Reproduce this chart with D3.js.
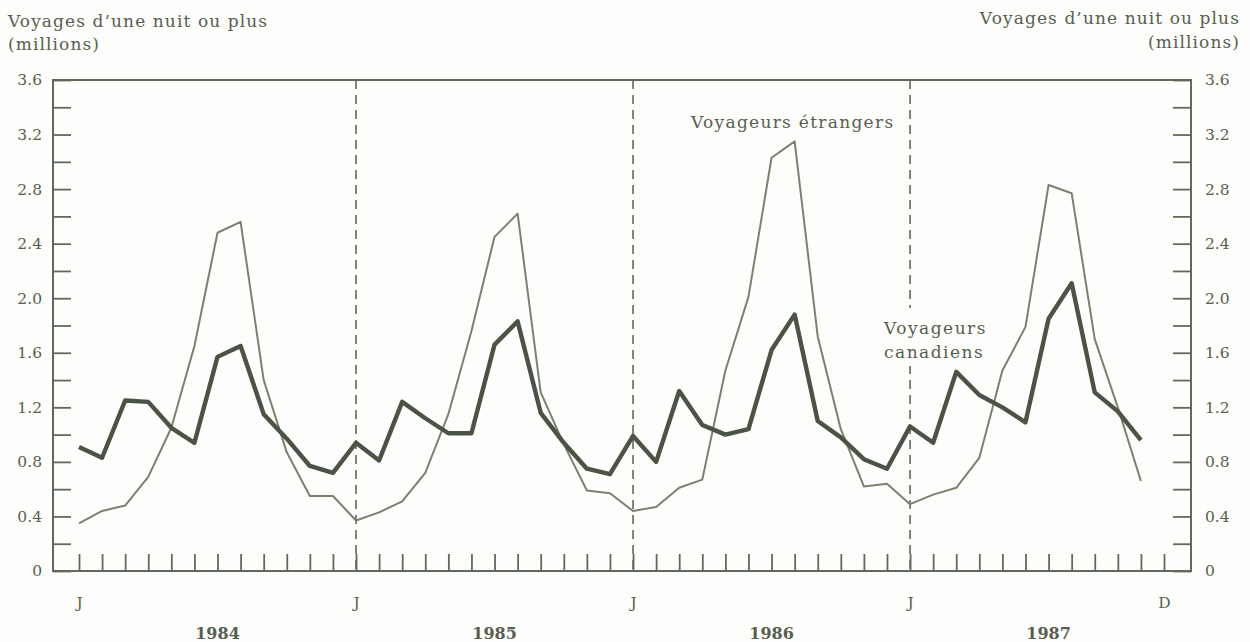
<!DOCTYPE html>
<html><head><meta charset="utf-8">
<script src="https://cdn.jsdelivr.net/npm/d3@7"></script>
<style>
html,body{margin:0;padding:0;background:#fdfdfb;}
text{font-family:"DejaVu Serif",serif;fill:#566050;}
</style></head>
<body><svg id="c" width="1250" height="642"></svg>
<script>
// ---- data (monthly, Jan 1984 .. Nov 1987) ----
const years = ["1984","1985","1986","1987"];
const monthLetters = ["J","F","M","A","M","J","J","A","S","O","N","D"];
const etrangers = [
  0.35,0.44,0.48,0.69,1.05,1.65,2.48,2.56,1.40,0.87,0.55,0.55,
  0.37,0.43,0.51,0.72,1.15,1.76,2.45,2.62,1.31,0.93,0.59,0.57,
  0.44,0.47,0.61,0.67,1.47,2.01,3.03,3.15,1.72,1.04,0.62,0.64,
  0.49,0.56,0.61,0.83,1.47,1.79,2.83,2.77,1.70,1.20,0.66
];
const canadiens = [
  0.91,0.83,1.25,1.24,1.05,0.94,1.57,1.65,1.15,0.97,0.77,0.72,
  0.94,0.81,1.24,1.12,1.01,1.01,1.66,1.83,1.16,0.94,0.75,0.71,
  0.99,0.80,1.32,1.07,1.00,1.04,1.62,1.88,1.10,0.98,0.82,0.75,
  1.06,0.94,1.46,1.29,1.20,1.09,1.85,2.11,1.31,1.17,0.96
];
const yTicks = [0,0.2,0.4,0.6,0.8,1.0,1.2,1.4,1.6,1.8,2.0,2.2,2.4,2.6,2.8,3.0,3.2,3.4,3.6];
const yLabelled = [0,0.4,0.8,1.2,1.6,2.0,2.4,2.8,3.2,3.6];
const axisTitle = ["Voyages d\u2019une nuit ou plus","(millions)"];
const labelEtr = "Voyageurs étrangers";
const labelCan = ["Voyageurs","canadiens"];

// ---- layout ----
const svg = d3.select("#c");
const nMonths = 48;
const frameL = 53, frameR = 1191, frameT = 80, frameB = 571;
const x = d3.scaleLinear().domain([0, nMonths-1]).range([79, 1164]);
const y = d3.scaleLinear().domain([0, 3.6]).range([frameB, frameT]);
const ink = "#5f6a58";

const fmt = v => v === 0 ? "0" : d3.format(".1f")(v);
const lblFmt = v => yLabelled.some(t => Math.abs(t - v) < 1e-9) ? fmt(v) : "";

// left axis
const gL = svg.append("g").attr("transform", `translate(${frameL},0)`)
  .call(d3.axisLeft(y).tickValues(yTicks).tickSize(-18).tickPadding(11).tickFormat(lblFmt));
// right axis
const gR = svg.append("g").attr("transform", `translate(${frameR},0)`)
  .call(d3.axisRight(y).tickValues(yTicks).tickSize(-18).tickPadding(14).tickFormat(lblFmt));
// bottom axis (months)
const monthIdx = d3.range(nMonths);
const gB = svg.append("g").attr("transform", `translate(0,${frameB})`)
  .call(d3.axisBottom(x).tickValues(monthIdx).tickSize(-17).tickPadding(26)
    .tickFormat(i => (i % 12 === 0) ? "J" : (i === nMonths-1 ? "D" : "")));

[gL, gR, gB].forEach(g => {
  g.select(".domain").remove();
  g.selectAll(".tick line").attr("stroke", ink).attr("stroke-width", 1.8);
  g.selectAll(".tick text").attr("font-size", 15.5).style("fill", "#566050");
});

// frame
svg.append("rect").attr("x", frameL).attr("y", frameT)
  .attr("width", frameR - frameL).attr("height", frameB - frameT)
  .attr("fill", "none").attr("stroke", ink).attr("stroke-width", 2);

// dashed year separators
svg.append("g").selectAll("line").data([12, 24, 36]).join("line")
  .attr("x1", d => x(d)).attr("x2", d => x(d))
  .attr("y1", frameT).attr("y2", frameB)
  .attr("stroke", ink).attr("stroke-width", 1.6).attr("stroke-dasharray", "9,6");

// year labels
svg.append("g").selectAll("text").data(years).join("text")
  .attr("x", (d, i) => x(i * 12 + 6)).attr("y", 639)
  .attr("text-anchor", "middle").attr("font-size", 16).attr("font-weight", "bold")
  .text(d => d);

// lines
const line = d3.line().x((d, i) => x(i)).y(d => y(d));
svg.append("path").datum(etrangers).attr("d", line)
  .attr("fill", "none").attr("stroke", "#79826f").attr("stroke-width", 2)
  .attr("stroke-linejoin", "round");
svg.append("path").datum(canadiens).attr("d", line)
  .attr("fill", "none").attr("stroke", "#4a5344").attr("stroke-width", 4.4)
  .attr("stroke-linejoin", "round");

// series labels
svg.append("text").attr("x", 691).attr("y", 128).attr("font-size", 17)
  .attr("letter-spacing", 1.3).text(labelEtr);
const canG = svg.append("g");
canG.append("rect").attr("x", 880).attr("y", 308).attr("width", 108).attr("height", 58)
  .attr("fill", "#fdfdfb");
canG.selectAll("text").data(labelCan).join("text")
  .attr("x", 884).attr("y", (d, i) => 334 + i * 24).attr("font-size", 17)
  .attr("letter-spacing", 1.5).text(d => d);

// axis titles
const tl = svg.append("g");
tl.append("text").attr("x", 8).attr("y", 27).attr("font-size", 17).attr("letter-spacing", 1.1).text(axisTitle[0]);
tl.append("text").attr("x", 8).attr("y", 50).attr("font-size", 17).attr("letter-spacing", 1.1).text(axisTitle[1]);
const tr = svg.append("g");
tr.append("text").attr("x", 1240).attr("y", 24).attr("font-size", 17).attr("letter-spacing", 1.1).attr("text-anchor", "end").text(axisTitle[0]);
tr.append("text").attr("x", 1240).attr("y", 48).attr("font-size", 17).attr("letter-spacing", 1.1).attr("text-anchor", "end").text(axisTitle[1]);
</script></body></html>
